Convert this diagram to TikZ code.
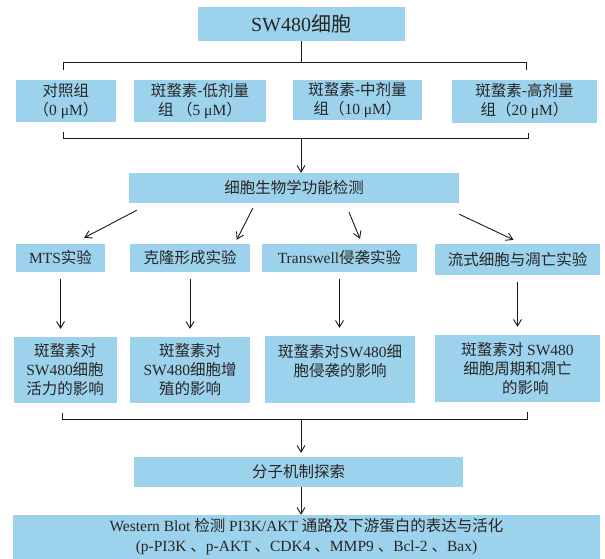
\documentclass[tikz,border=0pt]{standalone}
\usepackage{fontspec}
\setmainfont{Liberation Serif}
\newfontfamily\cjk{Noto Sans CJK SC}
\usetikzlibrary{arrows.meta}
\definecolor{boxblue}{RGB}{157,210,236}
\newcommand{\zh}[1]{{\cjk #1}}

\begin{document}
\begin{tikzpicture}[x=1pt,y=-1pt,
  blk/.style={fill=boxblue, inner sep=0pt, align=center, text=black!85, font=\fontsize{15.5pt}{19pt}\selectfont},
  ln/.style={line width=0.9pt, black!90},
  arr/.style={ln, -{Straight Barb[length=6.5pt,width=8pt]}}]
\useasboundingbox (0,0) rectangle (605,558);

\node[blk, minimum width=207pt, minimum height=34pt, font=\fontsize{20pt}{24pt}\selectfont] (cell) at (301,24) {SW480\zh{细胞}};

% dose groups
\node[blk, minimum width=100pt, minimum height=42pt] (ctrl) at (66,101) {\zh{对照组}\\\zh{（}0 μM\zh{）}};
\node[blk, minimum width=132pt, minimum height=42pt] (low) at (200,101) {\zh{斑蝥素-低剂量}\\\zh{组 （}5 μM\zh{）}};
\node[blk, minimum width=129pt, minimum height=40pt] (mid) at (357.5,100) {\zh{斑蝥素-中剂量}\\\zh{组（}10 μM\zh{）}};
\node[blk, minimum width=145pt, minimum height=43pt] (high) at (524.5,101.5) {\zh{斑蝥素-高剂量}\\\zh{组（}20 μM\zh{）}};

\draw[ln] (cell.south) -- ++(0,21) coordinate (tb);
\draw[ln] ([xshift=-3pt,yshift=10pt]ctrl.north) |- (tb) -| ([xshift=2pt,yshift=10pt]high.north);
\coordinate (gb) at ([xshift=-3pt,yshift=-16pt]ctrl.south);
\draw[ln] ([xshift=-3pt,yshift=-10pt]ctrl.south) -- (gb) -| ([xshift=4pt,yshift=-10pt]high.south);

\node[blk, minimum width=330pt, minimum height=30pt] (bio) at (294,188) {\zh{细胞生物学功能检测}};
\draw[arr] (gb -| cell.south) -- (bio.north -| cell.south);

% experiments
\node[blk, minimum width=89pt, minimum height=28pt] (mts) at (60.5,258) {MTS\zh{实验}};
\node[blk, minimum width=120pt, minimum height=28pt] (clone) at (190,258) {\zh{克隆形成实验}};
\node[blk, minimum width=155pt, minimum height=28pt] (trans) at (339.5,258) {Transwell\zh{侵袭实验}};
\node[blk, minimum width=165pt, minimum height=31pt] (flow) at (517.5,259.5) {\zh{流式细胞与凋亡实验}};

\draw[arr] ([xshift=8pt,yshift=-7pt]bio.south west) -- ([xshift=-21pt,yshift=6pt]mts.north east);
\draw[arr] ([xshift=124pt,yshift=-5pt]bio.south west) -- ([xshift=-13.5pt,yshift=4pt]clone.north east);
\draw[arr] ([xshift=55pt,yshift=-9pt]bio.south) -- ([xshift=20.5pt,yshift=5pt]trans.north);
\draw[arr] ([yshift=-11pt]bio.south east) -- ([xshift=-4pt,yshift=4pt]flow.north);

% effects
\node[blk, minimum width=103pt, minimum height=66pt] (eff1) at (65,370) {\zh{斑蝥素对}\\SW480\zh{细胞}\\\zh{活力的影响}};
\node[blk, minimum width=120pt, minimum height=66pt] (eff2) at (190,370) {\zh{斑蝥素对}\\SW480\zh{细胞增}\\\zh{殖的影响}};
\node[blk, minimum width=150pt, minimum height=67pt] (eff3) at (340,369.5) {\zh{斑蝥素对}SW480\zh{细}\\\zh{胞侵袭的影响}\\~};
\node[blk, minimum width=165pt, minimum height=67pt] (eff4) at (517.5,368.5) {\zh{斑蝥素对} SW480\\\zh{细胞周期和凋亡}\\\hspace*{1em}\zh{的影响}};

\foreach \a/\b in {mts/eff1, clone/eff2, trans/eff3, flow/eff4}
  \draw[arr] ([yshift=-7pt]\a.south) -- ([yshift=8pt]\a.south |- \b.north);

\coordinate (rb) at ([xshift=-2.5pt,yshift=-16pt]eff1.south);
\draw[ln] ([xshift=-2.5pt,yshift=-10pt]eff1.south) -- (rb) -| ([xshift=10pt,yshift=-10pt]eff4.south);

\node[blk, minimum width=329pt, minimum height=30pt] (mech) at (298.5,472) {\zh{分子机制探索}};
\draw[arr] (rb -| cell.south) -- ([yshift=4pt]mech.north -| cell.south);

\node[blk, minimum width=587pt, minimum height=44pt, font=\fontsize{15.5pt}{20pt}\selectfont] (wb) at (306.5,537) {Western Blot \zh{检测} PI3K/AKT \zh{通路及下游蛋白的表达与活化}\\(p-PI3K \zh{、}p-AKT \zh{、}CDK4 \zh{、}MMP9 \zh{、}Bcl-2 \zh{、}Bax)};
\draw[arr] (mech.south -| cell.south) -- (wb.north -| cell.south);
\end{tikzpicture}
\end{document}
